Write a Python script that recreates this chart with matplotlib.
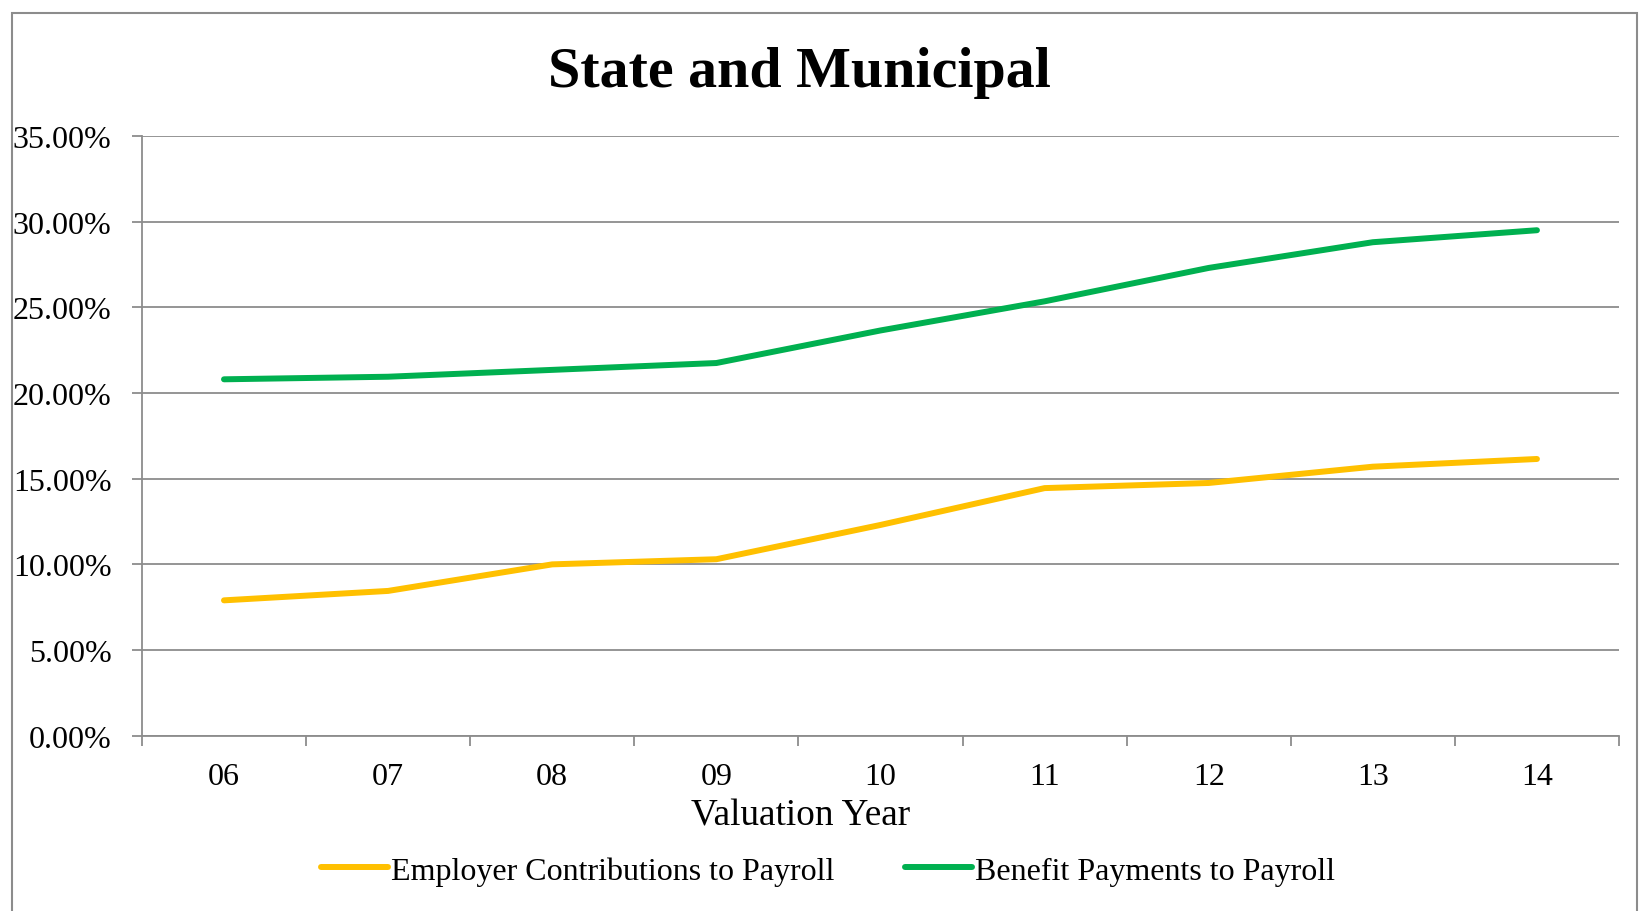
import numpy as np
import matplotlib
matplotlib.use("Agg")
import matplotlib.pyplot as plt
from matplotlib.patches import Rectangle
from matplotlib.ticker import FuncFormatter, MultipleLocator

plt.rcParams['font.family'] = ['Liberation Serif', 'DejaVu Serif']

years = ['06', '07', '08', '09', '10', '11', '12', '13', '14']
employer_contrib = [7.9, 8.45, 10.0, 10.3, 12.3, 14.45, 14.75, 15.7, 16.15]
benefit_payments = [20.8, 20.95, 21.35, 21.75, 23.65, 25.35, 27.3, 28.8, 29.5]

grid_col = '#8c8c8c'

fig = plt.figure(figsize=(16.39, 9.12), dpi=100)
ax = fig.add_axes([0.0866, 0.1922, 0.9012, 0.6576])

x = np.arange(len(years))
ax.plot(x, employer_contrib, color='#FFC000', lw=4.3, solid_capstyle='round',
        label='Employer Contributions to Payroll', zorder=3)
ax.plot(x, benefit_payments, color='#00B050', lw=4.3, solid_capstyle='round',
        label='Benefit Payments to Payroll', zorder=3)

ax.set_xlim(-0.5, len(years) - 0.5)
ax.set_ylim(0, 35)
ax.yaxis.set_major_locator(MultipleLocator(5))
ax.yaxis.set_major_formatter(FuncFormatter(lambda v, p: '%.2f%%' % v))
ax.grid(axis='y', color=grid_col, lw=1.3)
ax.set_axisbelow(True)

ax.set_xticks(x)
ax.set_xticklabels(years)
ax.set_xticks(np.arange(-0.5, len(years)), minor=True)
ax.tick_params(axis='x', which='major', length=0, pad=19, labelsize=23)
ax.tick_params(axis='x', which='minor', length=7, width=1.3, color=grid_col)
ax.tick_params(axis='y', length=7, width=1.3, color=grid_col, pad=15, labelsize=23)

for s in ['top', 'right']:
    ax.spines[s].set_visible(False)
for s in ['left', 'bottom']:
    ax.spines[s].set_color(grid_col)
    ax.spines[s].set_linewidth(1.3)

ax.set_xlabel('Valuation Year', fontsize=26.8, va='center')
ax.xaxis.set_label_coords(0.446, -0.132)

fig.text(0.488, 0.9205, 'State and Municipal', ha='center', va='center',
         fontsize=41.8, fontweight='bold')

fig.legend(loc='center', bbox_to_anchor=(0.505, 0.044), ncol=2, frameon=False,
           fontsize=23, handlelength=2.1, handletextpad=0.1, columnspacing=2.2)

fig.patches.append(Rectangle((12 / 1639, -0.01), (1637 - 12) / 1639, 1.002 - 7 / 912,
                             transform=fig.transFigure, fill=False,
                             edgecolor=grid_col, lw=1.5))

fig.savefig('out.png', dpi=100)
